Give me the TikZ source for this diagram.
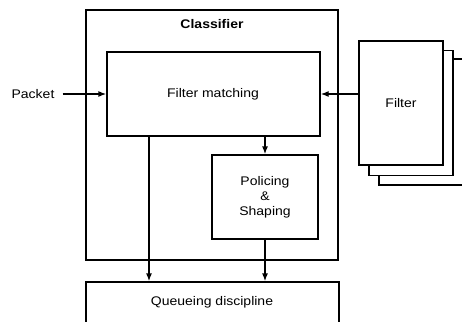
\documentclass[tikz,border=0pt]{standalone}
\usepackage{fontspec}
\setmainfont{Liberation Sans}[FakeStretch=1.12]
\usetikzlibrary{arrows.meta,calc}
\begin{document}
\begin{tikzpicture}[x=1pt,y=-1pt,
  box/.style={draw,line width=1.3pt,rectangle,inner sep=0pt,fill=white},
  lbl/.style={font=\fontsize{12.5}{15}\selectfont,inner sep=0pt,align=center},
  arr/.style={line width=1.3pt,-{Latex[length=8pt,width=6pt]}}]
\useasboundingbox (0,0) rectangle (462,321);
\clip (0,0) rectangle (462,321);
% classifier
\node[box,minimum width=252pt,minimum height=250pt] (cls) at (212,135) {};
\node[lbl,font=\fontsize{12.5}{15}\selectfont\bfseries] (clslbl) at (212,24) {Classifier};
\node[box,minimum width=213pt,minimum height=84pt] (fm) at (213.5,94) {};
\node[lbl] (fmtxt) at (213,94) {Filter matching};
\node[box,minimum width=106pt,minimum height=84pt,lbl] (pol) at (265,197) {Policing\\\&\\Shaping};
% queue
\node[box,minimum width=253pt,minimum height=58pt] (queue) at (212.5,311) {};
\node[lbl] (qtxt) at (212,302) {Queueing discipline};
% filters
\node[box,minimum width=84pt,minimum height=126pt] (f3) at (421,122) {};
\node[box,minimum width=84pt,minimum height=125pt] (f2) at (411,113) {};
\node[box,minimum width=84pt,minimum height=124pt,lbl] (f1) at (401,103) {Filter};
% packet
\node[lbl] (pkt) at (33,94) {Packet};
% arrows
\coordinate (lx) at (149,0);
\draw[arr] ([xshift=8pt]pkt.east) -- (fm.west);
\draw[arr] (f1.west |- fm.east) -- (fm.east);
\draw[arr] (fm.south -| pol.north) -- (pol.north);
\draw[arr] (fm.south -| lx) -- (queue.north -| lx);
\draw[arr] (pol.south) -- (pol.south |- queue.north);
\end{tikzpicture}
\end{document}
